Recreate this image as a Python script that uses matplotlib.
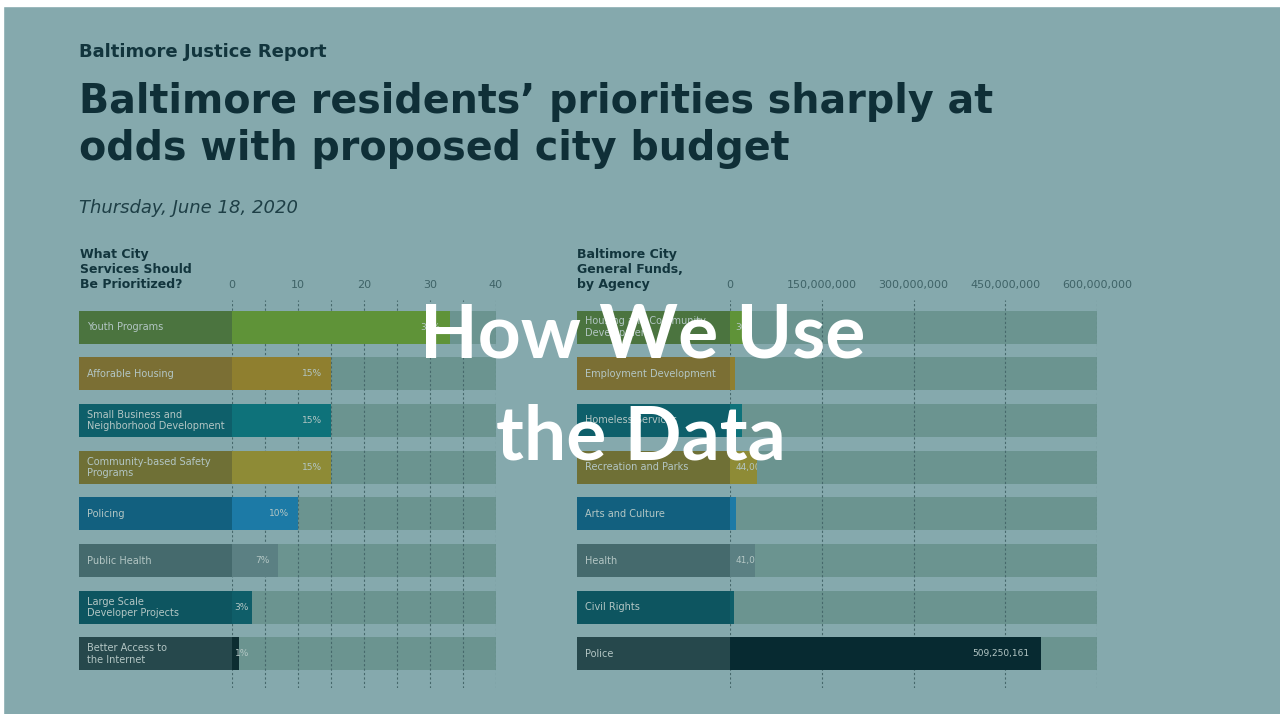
import matplotlib.pyplot as plt
from matplotlib.patches import Rectangle
from matplotlib.ticker import FuncFormatter

W, H = 1280, 714

# survey: what city services should be prioritized (percent)
left_labels = ["Youth Programs", "Afforable Housing",
               "Small Business and\nNeighborhood Development",
               "Community-based Safety\nPrograms", "Policing", "Public Health",
               "Large Scale\nDeveloper Projects", "Better Access to\nthe Internet"]
left_values = [33, 15, 15, 15, 10, 7, 3, 1]
left_ticks = [0, 10, 20, 30, 40]

# general funds by agency (dollars)
right_labels = ["Housing and Community\nDevelopment", "Employment Development",
                "Homeless Services", "Recreation and Parks", "Arts and Culture",
                "Health", "Civil Rights", "Police"]
right_values = [30000000, 8000000, 20000000, 44000000, 10000000, 41000000, 6000000, 509250161]
right_shown = [True, False, False, True, False, True, False, True]
right_ticks = [0, 150000000, 300000000, 450000000, 600000000]

box_colors = ['#4b743f', '#7b6f34', '#0e5f6a', '#6f7036', '#12607f', '#456a6d', '#0d5560', '#26484c']
bar_colors = ['#5f9338', '#8f7f2f', '#0e727a', '#8e8b36', '#1c7aa6', '#5b8083', '#0f5e69', '#0c2d31']
right_bar_colors = bar_colors[:7] + ['#072a31']

bg = '#85a9ad'
track = '#6b9490'
grid_c = '#46686b'
label_c = '#b3c6c4'
tick_c = '#3f6367'
dark = '#12353d'

plt.rcParams['font.family'] = ['DejaVu Sans']


def box(x0, y0, x1, y1):
    return [x0 / W, 1 - y1 / H, (x1 - x0) / W, (y1 - y0) / H]


fig = plt.figure(figsize=(12.8, 7.14), dpi=100, facecolor=bg)
rows = list(range(8))
ylims = (7.73, -0.58)


def panel(x_lab, x0, x1, labels, values, bcolors, xmax, ticks, fmt, grid_at):
    lab = fig.add_axes(box(x_lab, 300, x0, 688))
    lab.set_xlim(0, 1)
    lab.set_ylim(*ylims)
    lab.axis('off')
    lab.barh(rows, 1, height=0.71, color=box_colors)
    for i, t in enumerate(labels):
        lab.annotate(t, (0, i), xytext=(6, 0), textcoords='offset points',
                     ha='left', va='center', fontsize=7, color=label_c, linespacing=1.15)

    ax = fig.add_axes(box(x0, 300, x1, 688))
    ax.set_facecolor('none')
    ax.set_xlim(0, xmax)
    ax.set_ylim(*ylims)
    ax.barh(rows, xmax, height=0.71, color=track, zorder=1)
    for g in grid_at:
        ax.axvline(g, color=grid_c, lw=0.8, ls=(0, (2, 2)), zorder=2)
    bars = ax.barh(rows, values, height=0.71, color=bcolors, zorder=3)
    for s in ax.spines.values():
        s.set_visible(False)
    ax.set_yticks([])
    ax.xaxis.tick_top()
    ax.set_xticks(ticks)
    ax.xaxis.set_major_formatter(FuncFormatter(fmt))
    ax.tick_params(axis='x', length=0, pad=7, labelsize=8, labelcolor=tick_c)
    return ax, bars


# left panel
axl, bl = panel(79, 232, 496, left_labels, left_values, bar_colors, 40,
                left_ticks, lambda v, p: "%d" % v, range(0, 41, 5))
for i, v in enumerate(left_values):
    if v < 4:
        axl.annotate("%d%%" % v, (0, i), xytext=(2, 0), textcoords='offset points',
                     ha='left', va='center', fontsize=6.5, color=label_c, zorder=4)
    else:
        axl.annotate("%d%%" % v, (v, i), xytext=(-6.5, 0), textcoords='offset points',
                     ha='right', va='center', fontsize=6.5, color=label_c, zorder=4)

# right panel
axr, br = panel(577, 730, 1097, right_labels, right_values, right_bar_colors, 600000000,
                right_ticks, lambda v, p: "{:,.0f}".format(v), right_ticks)
for i, v in enumerate(right_values):
    if not right_shown[i]:
        continue
    if v > 100000000:
        t = axr.annotate("{:,}".format(v), (v, i), xytext=(-9, 0), textcoords='offset points',
                         ha='right', va='center', fontsize=6.5, color=label_c, zorder=4)
    else:
        t = axr.annotate("{:,}".format(v), (0, i), xytext=(4, 0), textcoords='offset points',
                         ha='left', va='center', fontsize=6.5, color=label_c, zorder=4)
    t.set_clip_path(br[i])

# headings and overlay
over = fig.add_axes([0, 0, 1, 1])
over.set_xlim(0, W)
over.set_ylim(H, 0)
over.axis('off')
over.set_zorder(10)
over.add_patch(Rectangle((0, 0), W, 6, color='white'))
over.add_patch(Rectangle((0, 0), 3, H, color='white'))

over.text(79, 52, "Baltimore Justice Report", fontsize=13, fontweight='semibold',
          color=dark, va='center')
over.text(79, 113, "Baltimore residents’ priorities sharply at",
          fontsize=28.5, fontweight='bold', color='#0f2f37', va='baseline')
over.text(79, 160, "odds with proposed city budget",
          fontsize=28.5, fontweight='bold', color='#0f2f37', va='baseline')
over.text(79, 208, "Thursday, June 18, 2020", fontsize=13, style='italic',
          color='#1e3f46', va='center')
over.text(80, 291, "What City\nServices Should\nBe Prioritized?", fontsize=9,
          fontweight='bold', color=dark, va='bottom', linespacing=1.2)
over.text(577, 291, "Baltimore City\nGeneral Funds,\nby Agency", fontsize=9,
          fontweight='bold', color=dark, va='bottom', linespacing=1.2)

over.text(643, 357, "How We Use", fontsize=54, family=['Lato', 'DejaVu Sans'],
          fontweight='bold', color='white', ha='center', va='baseline')
over.text(641, 460, "the Data", fontsize=54, family=['Lato', 'DejaVu Sans'],
          fontweight='bold', color='white', ha='center', va='baseline')

fig.savefig('out.png', dpi=100, facecolor=bg)
